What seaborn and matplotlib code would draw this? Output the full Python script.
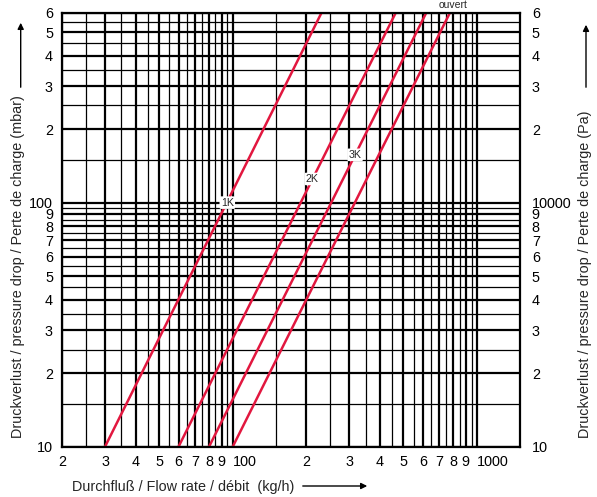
import numpy as np
import pandas as pd
import seaborn as sns
import matplotlib.pyplot as plt

# Kennlinien (Endpunkte)
curves = ['1K', '2K', '3K', 'ouvert']
flow_start = [30, 60, 80, 100]      # kg/h bei 10 mbar
flow_end = [231, 465, 620, 775]     # kg/h bei 600 mbar
p_start = 10
p_end = 600

label_flow = [95, 212, 317]
label_dp = [100, 125, 157]

x_major = [20, 30, 40, 50, 60, 70, 80, 90, 100, 200, 300, 400, 500, 600, 700, 800, 900, 1000]
x_major_labels = ['2', '3', '4', '5', '6', '7', '8', '9', '100', '2', '3', '4', '5', '6', '7', '8', '9', '1000']
x_minor = [25, 35, 45, 55, 65, 75, 85, 95, 150, 250, 350, 450, 550, 650, 750, 850, 950]

y_major = [10, 20, 30, 40, 50, 60, 70, 80, 90, 100, 200, 300, 400, 500, 600]
y_left_labels = ['10', '2', '3', '4', '5', '6', '7', '8', '9', '100', '2', '3', '4', '5', '6']
y_right_labels = ['10', '2', '3', '4', '5', '6', '7', '8', '9', '10000', '2', '3', '4', '5', '6']
y_minor = [15, 25, 35, 45, 55, 65, 75, 85, 95, 150, 250, 350, 450, 550]

red = '#e2173f'
fs = 10.4

sns.set_theme(style='white')
plt.rcParams['font.family'] = ['Liberation Sans', 'DejaVu Sans']

rows = []
for name, q0, q1 in zip(curves, flow_start, flow_end):
    rows.append({'curve': name, 'flow': q0, 'dp': p_start})
    rows.append({'curve': name, 'flow': q1, 'dp': p_end})
df = pd.DataFrame(rows)

fig = plt.figure(figsize=(5.97, 4.97), dpi=100)
ax = fig.add_axes([62 / 597, 50.3 / 497, 458 / 597, 434 / 497])

ax.set_xscale('log')
ax.set_yscale('log')
ax.set_xlim(20, 1500)
ax.set_ylim(10, 600)

ax.set_xticks(x_major)
ax.set_xticklabels(x_major_labels)
ax.set_xticks(x_minor, minor=True)
ax.set_xticklabels([], minor=True)
ax.set_yticks(y_major)
ax.set_yticklabels(y_left_labels)
ax.set_yticks(y_minor, minor=True)
ax.set_yticklabels([], minor=True)

# 100 und 1000 stehen links am Gitterstrich
for lbl in ax.get_xticklabels():
    if lbl.get_text() in ('100', '1000'):
        lbl.set_horizontalalignment('left')

ax.grid(which='major', color='black', linewidth=1.6)
ax.grid(which='minor', color='black', linewidth=0.9)
ax.set_axisbelow(True)
ax.tick_params(which='both', length=0, labelsize=fs, colors='black')
ax.tick_params(axis='x', pad=6)
ax.tick_params(axis='y', pad=6.5)
for s in ax.spines.values():
    s.set_color('black')
    s.set_linewidth(1.6)

sns.lineplot(data=df, x='flow', y='dp', hue='curve', units='curve', estimator=None,
             palette={c: red for c in curves}, linewidth=1.8, legend=False, sort=False, ax=ax)
ax.set_xlabel('')
ax.set_ylabel('')

for name, q, p in zip(curves, label_flow, label_dp):
    ax.text(q, p, name, fontsize=7.7, ha='center', va='center', zorder=5,
            bbox=dict(boxstyle='round,pad=0.12', fc='white', ec='none'))
ax.annotate('ouvert', xy=(flow_end[3], p_end), xytext=(2, 5.5), textcoords='offset points',
            fontsize=7.5, ha='center', va='center', annotation_clip=False)

ax2 = ax.twinx()
ax2.set_yscale('log')
ax2.set_ylim(10, 600)
ax2.set_yticks(y_major)
ax2.set_yticklabels(y_right_labels)
ax2.set_yticks([], minor=True)
ax2.tick_params(which='both', length=0, labelsize=fs, colors='black', pad=8.5)
for s in ax2.spines.values():
    s.set_visible(False)

ylabel_txt = 'Druckverlust / pressure drop / Perte de charge'
fig.text(18 / 597, 59 / 497, ylabel_txt + ' (mbar)', rotation=90, fontsize=fs,
         ha='center', va='bottom')
fig.text(585 / 597, 59 / 497, ylabel_txt + ' (Pa)', rotation=90, fontsize=fs,
         ha='center', va='bottom')
fig.text(72 / 597, 10.5 / 497, 'Durchfluß / Flow rate / débit  (kg/h)', fontsize=fs,
         ha='left', va='center')

arrow = dict(arrowstyle='-|>', color='black', lw=1, mutation_scale=9)
ax.annotate('', xy=(20.7, 477), xytext=(20.7, 407), xycoords='figure pixels',
            textcoords='figure pixels', arrowprops=arrow, annotation_clip=False)
ax.annotate('', xy=(586, 475), xytext=(586, 407), xycoords='figure pixels',
            textcoords='figure pixels', arrowprops=arrow, annotation_clip=False)
ax.annotate('', xy=(370, 11), xytext=(300, 11), xycoords='figure pixels',
            textcoords='figure pixels', arrowprops=arrow, annotation_clip=False)

fig.savefig('out.png', dpi=100)
